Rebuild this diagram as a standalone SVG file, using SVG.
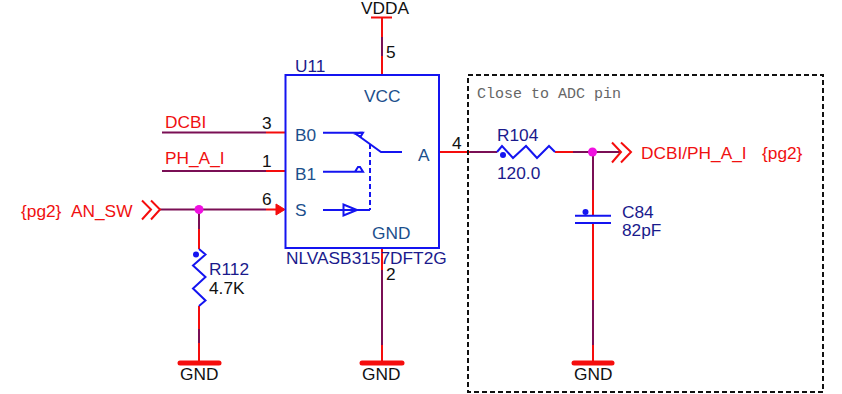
<svg xmlns="http://www.w3.org/2000/svg" width="842" height="394" viewBox="0 0 842 394">
<style>
text{font-family:"Liberation Sans",Arial,sans-serif;font-size:17.3px}
.k{fill:#111}.r{fill:#f01010}.n{fill:#1a1a8c}.p{fill:#1c4f8c}
.w{stroke:#7a0f55;stroke-width:2;fill:none}
.e{stroke:#f50d0d;stroke-width:2;fill:none}
.b{stroke:#1414f0;stroke-width:2;fill:none}
.g{stroke:#f50d0d;stroke-width:5;stroke-linecap:round;fill:none}
.m{fill:#f010e0}
.d{fill:#1414f0}
.c{stroke:#f50d0d;stroke-width:2;fill:none}
</style>
<rect width="842" height="394" fill="#fff"/>
<g id="connectors">
<path class="w" d="M382 37V56M162 132.500H266M162 171H266M160 209.500H266M199 209.500V229M199 329V343M382 270V345M470 152H497M573 152H620M593 152V190M593 300V345"/>
<path class="e" d="M382 18V37M382 56V75M266 132.500H285M266 171H285M266 209.500H276M199 229V249M199 306V329M199 343V363M382 248V270M382 345V363M439 152H470M555 152H573M593 190V216M593 223V300M593 345V363"/>
<path d="M276 204L285 209.500L276 215Z" fill="#f50d0d" stroke="#f50d0d"/>
<circle class="m" cx="199" cy="209.500" r="4.500"/>
<circle class="m" cx="592.500" cy="152" r="4.500"/>
</g>
<g id="U11">
<rect x="285.500" y="75" width="153.500" height="173" fill="none" stroke="#1414f0" stroke-width="2"/>
<text class="n" x="295" y="72">U11</text>
<text class="p" x="364" y="102">VCC</text>
<text class="p" x="295" y="141">B0</text>
<text class="p" x="295" y="180">B1</text>
<text class="p" x="295" y="216">S</text>
<text class="p" x="418" y="161">A</text>
<text class="p" x="372" y="239">GND</text>
<text class="n" x="286" y="264">NLVASB3157DFT2G</text>
<path class="b" d="M323 132.700H363M356 134L381 152H402M323 171.700H363M358 167L355 171.700H363L360 167Z"/>
<path d="M356 134L360 132.700H363L361 136Z" fill="none" stroke="#1414f0" stroke-width="2"/>
<path class="b" d="M323 210H370M343.500 204.500V215.500L357 210Z"/>
<path class="b" stroke-dasharray="5 3" d="M370 144V210"/>
<text class="k" x="262" y="129">3</text>
<text class="k" x="262" y="167">1</text>
<text class="k" x="262" y="205">6</text>
<text class="k" x="386" y="58">5</text>
<text class="k" x="386" y="280">2</text>
<text class="k" x="452" y="149">4</text>
</g>
<g id="VDDA">
<path class="e" d="M371 17.500H392"/>
<text class="k" x="361" y="14">VDDA</text>
</g>
<g id="DCBI"><text class="r" x="165" y="128">DCBI</text></g>
<g id="PH_A_I"><text class="r" x="165" y="164">PH_A_I</text></g>
<g id="AN_SW">
<text class="r" x="21" y="217">{pg2}</text>
<text class="r" x="71" y="217">AN_SW</text>
<path class="c" d="M142 200.500L151 209.500L142 219.500M151 200.500L160 209.500L151 219.500"/>
</g>
<g id="R112">
<path class="b" d="M199 249L205.500 254.500L193 265.500L205.500 277L193 288.500L205.500 300.500L199 306"/>
<circle class="d" cx="196" cy="254.500" r="3"/>
<text class="n" x="209" y="275">R112</text>
<text class="k" x="209" y="294">4.7K</text>
</g>
<g id="R104">
<path class="b" d="M497 152L502 146L513 158L526 146L537 158L549 146L555 152"/>
<circle class="d" cx="503" cy="155" r="3"/>
<text class="n" x="497" y="141">R104</text>
<text class="n" x="497" y="179">120.0</text>
</g>
<g id="C84">
<path class="b" d="M575 215.700H611M575 223H611"/>
<circle class="d" cx="585.500" cy="212" r="3"/>
<text class="n" x="622" y="218">C84</text>
<text class="n" x="622" y="236">82pF</text>
</g>
<g id="DCBI_PH_A_I">
<path class="c" d="M612 142.500L621 152L612 162.500M621 142.500L631 152L621 162.500"/>
<text class="r" x="641" y="159">DCBI/PH_A_I</text>
<text class="r" x="762" y="159">{pg2}</text>
</g>
<g id="GND1"><path class="g" d="M180 363H219"/><text class="k" x="180" y="380">GND</text></g>
<g id="GND2"><path class="g" d="M362 363H402"/><text class="k" x="362" y="380">GND</text></g>
<g id="GND3"><path class="g" d="M574 363H612"/><text class="k" x="574" y="380">GND</text></g>
<g id="note">
<rect x="468" y="75" width="355" height="317" fill="none" stroke="#111" stroke-width="2" stroke-dasharray="5 3"/>
<text x="477" y="98" style="font-family:'Liberation Mono',monospace;font-size:15px" fill="#666">Close to ADC pin</text>
</g>
</svg>
